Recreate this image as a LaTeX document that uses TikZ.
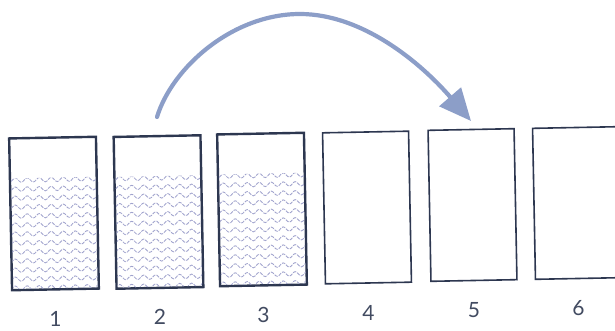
\documentclass[tikz,border=0pt]{standalone}
\usepackage{fontspec}
\setmainfont{Lato}
\usetikzlibrary{arrows.meta,decorations.pathmorphing,calc}
\definecolor{boxcol}{RGB}{45,55,80}
\definecolor{arrowcol}{RGB}{140,158,200}
\definecolor{wavecol}{RGB}{160,163,205}
\tikzset{
  vessel/.style={draw=boxcol, line width=1.6pt, minimum width=86pt, minimum height=151pt, inner sep=0pt, rotate=1.1, fill=white},
  numlabel/.style={font=\fontsize{21}{24}\selectfont, text=boxcol!90},
  wave/.style={draw=wavecol, line width=0.85pt, dash pattern=on 3.5pt off 1.2pt, decorate, decoration={snake, segment length=12pt, amplitude=2.2pt}},
  bigarrow/.style={draw=arrowcol, line width=4.2pt, line cap=round, -{Triangle[length=32pt,width=28pt]}}
}
\begin{document}
\begin{tikzpicture}[x=1pt,y=1pt]
\useasboundingbox (0,0) rectangle (615,330);
\clip (0,0) rectangle (615,330);
\fill[white] (0,0) rectangle (615,330);
\node[vessel] (b1) at (54,116.5) {};
\node[vessel] (b2) at (158.5,118) {};
\node[vessel] (b3) at (262,120.5) {};
\node[vessel] (b4) at (367,122.5) {};
\node[vessel] (b5) at (472.5,125) {};
\node[vessel] (b6) at (577,127) {};
\foreach \b in {b1,b2,b3}{
  \begin{scope}
    \clip ($(\b.south west)+(1.5,1.5)$) -- ($(\b.south east)+(-1.5,1.5)$) -- ($(\b.north east)!0.265!(\b.south east)+(-1.5,0)$) -- ($(\b.north west)!0.265!(\b.south west)+(1.5,0)$) -- cycle;
    \foreach \k in {0,...,13}{
      \path[wave] ($(\b.north west)!0.265!(\b.south west)+(-10,-2-9*\k)$) -- ++(110,2.1);
    }
  \end{scope}
  \draw[boxcol, line width=1.6pt] (\b.south west) -- (\b.south east) -- (\b.north east) -- (\b.north west) -- cycle;
}
\foreach \b/\t in {b1/1,b2/2,b3/3,b4/4,b5/5,b6/6}{
  \node[numlabel] (l\t) at ($(\b.south)+(0,-29)$) {\t};
}
\coordinate (as) at (157,213);
\coordinate (ap) at (300,316);
\coordinate (ae) at (471,209);
\draw[bigarrow] (as) .. controls (172,262) and (232,316) .. (ap) .. controls (362,316) and (420,268) .. (ae);
\end{tikzpicture}
\end{document}
